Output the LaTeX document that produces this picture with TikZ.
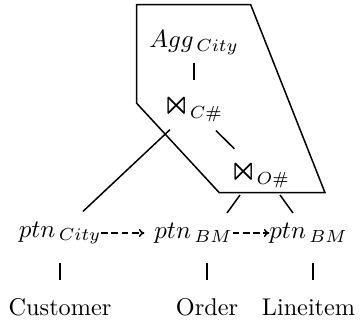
\documentclass[tikz,border=0pt]{standalone}
\usepackage{amssymb}
\usepackage{graphicx}
\usetikzlibrary{arrows.meta}
\newcommand{\bigjoin}{\mathord{\raisebox{-0.2ex}{\scalebox{1.45}{$\Join$}}}}
\begin{document}
\begin{tikzpicture}[x=0.4pt,y=-0.4pt,
  font=\fontsize{9.7}{12}\selectfont,
  lbl/.style={inner sep=0pt, outer sep=0pt},
  conn/.style={line width=0.6pt},
  flow/.style={line width=0.6pt, dash pattern=on 2.7pt off 1.4pt, -{To[length=2.2pt,width=3.2pt]}}]
\useasboundingbox (0,0) rectangle (360,322);
% fragment boundary
\draw[conn] (136.7,4.7) -- (250.7,4.7) -- (325,192.7) -- (219.3,192.7) -- (136.7,103.3) -- cycle;
% nodes
\node[lbl] (agg) at (194,43) {$Agg_{\,City}$};
\node[lbl] (cj) at (193,108) {$\bigjoin_{C\#}$};
\node[lbl] (oj) at (260,174) {$\bigjoin_{O\#}$};
\node[lbl] (ptnc) at (60,233) {$ptn_{\,City}$};
\node[lbl] (ptnb1) at (193.5,233) {$ptn_{\,BM}$};
\node[lbl] (ptnb2) at (308.5,233) {$ptn_{\,BM}$};
\node[lbl] (cust) at (60,307) {Customer};
\node[lbl] (order) at (207,307) {Order};
\node[lbl] (line) at (308.5,307) {Lineitem};
% stub ends
\coordinate (s1) at (240,195);
\coordinate (s2) at (227,213);
\coordinate (s3) at (280,195);
\coordinate (s4) at (293,213);
% connectors
\draw[conn, shorten <=8pt, shorten >=11.2pt] (agg.center) -- (agg.center |- cj.center);
\draw[conn, shorten <=12.8pt, shorten >=14.4pt] (cj.center) -- (oj.center);
\draw[conn, shorten <=12.6pt, shorten >=12.6pt] (cj.center) -- (ptnc.center);
\draw[conn] (s1) -- (s2);
\draw[conn] (s3) -- (s4);
\draw[flow] (ptnc.east) -- ([xshift=-4pt]ptnb1.west);
\draw[flow] (ptnb1.east) -- (ptnb2.west);
\draw[conn, shorten <=10.8pt, shorten >=12pt] (cust.center) -- (cust.center |- ptnc.center);
\draw[conn, shorten <=10.8pt, shorten >=12pt] (order.center) -- (order.center |- ptnb1.center);
\draw[conn, shorten <=10.8pt, shorten >=12pt] ([xshift=1.8pt]line.center) -- ([xshift=1.8pt]line.center |- ptnb2.center);
\end{tikzpicture}
\end{document}
